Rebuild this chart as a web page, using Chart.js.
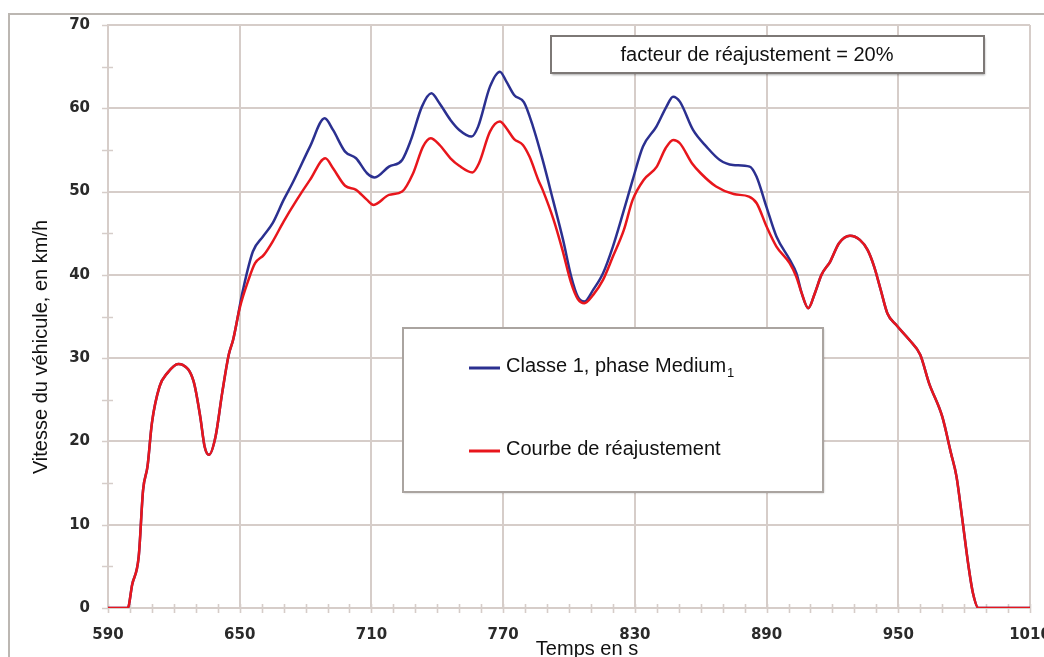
<!DOCTYPE html>
<html lang="fr">
<head>
<meta charset="utf-8">
<script src="https://cdn.jsdelivr.net/npm/chart.js@4"></script>
<style>
  html, body { margin: 0; padding: 0; background: #fff; }
</style>
</head>
<body>
<canvas id="vitesse" width="1044" height="657"></canvas>
<script>
/* Courbe de réajustement (rouge) : temps en s / vitesse en km/h */
const tempsReajust = [590, 599, 601, 604, 606, 608, 610, 613.5, 617, 622, 624, 629, 632, 634, 636, 639, 642, 645, 647,
    650, 654, 657, 661, 665, 670, 676, 682, 689, 692.5, 698, 703, 708, 711, 718, 724, 729, 733.5, 737, 741, 746, 750,
    756, 759, 764, 768.5, 771.5, 775, 779, 782, 786, 788, 793, 797, 801, 804, 807, 811, 815.5, 820, 825, 829, 834, 840,
    844, 847.5, 850.5, 856, 860, 867, 875, 882, 885.5, 890, 894.5, 900.5, 903.5, 906, 909, 912, 915, 919, 923, 928,
    932.5, 936, 939, 942, 945, 949, 955, 960, 964, 970, 974, 976.5, 979, 982, 984, 986.5, 1010];
const vitesseReajust = [0, 0, 2.8, 6.2, 14.2, 17, 22.2, 26.6, 28.2, 29.3, 29.2, 27.2, 23, 19.4, 18.4, 20.6, 25.8, 30.4, 32.2,
    36, 39.4, 41.4, 42.4, 44, 46.4, 49, 51.4, 54, 52.8, 50.7, 50.2, 49, 48.4, 49.6, 50, 52.2, 55.4, 56.4, 55.6, 54, 53.1,
    52.3, 53.4, 57.2, 58.4, 57.6, 56.3, 55.6, 54.2, 51.4, 50.2, 46.6, 43, 39, 37.1, 36.6, 37.6, 39.4, 42.2, 45.4, 49, 51.4, 53,
    55.2, 56.2, 55.8, 53.4, 52.2, 50.6, 49.7, 49.4, 48.6, 45.8, 43.4, 41.4, 39.8, 37.8, 36, 37.8, 40, 41.6, 43.8, 44.7,
    44.2, 43, 41, 38.2, 35.4, 34, 32.2, 30.4, 27, 23, 18.6, 15.8, 11, 5, 1.8, 0, 0];

/* Classe 1, phase Medium1 (bleu) */
const tempsClasse = [590, 599, 601, 604, 606, 608, 610, 613.5, 617, 622, 624, 629, 632, 634, 636, 639, 642, 645, 647,
    651.5, 656, 660.6, 665, 670, 674, 682, 688.7, 692.5, 698, 703, 708, 711.5, 718, 724, 728, 733, 737.3, 741, 746, 750,
    755.6, 758.6, 764, 768.5, 771.5, 775, 779.5, 783.6, 788, 792.7, 797.3, 801, 804, 807, 811, 815.5, 820, 824.6, 829,
    833.7, 839.8, 844.4, 847.4, 850.5, 856.5, 862.6, 868.7, 874.7, 882.3, 885.4, 889.9, 894.5, 900.6, 903.6, 906, 909,
    912, 915, 919, 923, 928, 932.5, 936, 939, 942, 945, 949, 955, 960, 964, 970, 974, 976.5, 979, 982, 984, 986.5, 1010];
const vitesseClasse = [0, 0, 2.8, 6.2, 14.2, 17, 22.2, 26.6, 28.2, 29.3, 29.2, 27.2, 23, 19.4, 18.4, 20.6, 25.8, 30.4, 32.2,
    38.2, 42.8, 44.6, 46.2, 49, 51, 55.4, 58.8, 57.4, 54.8, 54, 52.2, 51.7, 53, 53.8, 56.2, 60.2, 61.8, 60.6, 58.6, 57.4,
    56.6, 57.8, 62.6, 64.4, 63.2, 61.6, 60.7, 57.8, 53.8, 49, 44.2, 39.8, 37.4, 36.8, 38.2, 40.2, 43.4, 47.4, 51.4,
    55.4, 57.8, 60.2, 61.4, 60.8, 57.4, 55.4, 53.8, 53.2, 53, 51.8, 48.2, 44.6, 41.8, 40.2, 37.8, 36,
    37.8, 40, 41.6, 43.8, 44.7, 44.2, 43, 41, 38.2, 35.4, 34, 32.2, 30.4, 27, 23, 18.6, 15.8, 11, 5, 1.8, 0, 0];

const xTicks = [590, 650, 710, 770, 830, 890, 950, 1010];
const yTicks = [0, 10, 20, 30, 40, 50, 60, 70];
const xMinorStep = 10;
const yMinorStep = 5;

const BLEU = '#2b3090';
const ROUGE = '#e8161c';
const GRILLE = '#d6cdc9';
const POLICE = '"Liberation Sans", Arial, sans-serif';

const toPoints = (xs, ys) => xs.map((t, i) => ({ x: t, y: ys[i] }));

/* cadre, graduations, encadrés et titres d'axes */
const habillage = {
    id: 'habillage',
    beforeDraw(chart) {
        const { ctx, width, height } = chart;
        ctx.save();
        ctx.fillStyle = '#fff';
        ctx.fillRect(0, 0, width, height);
        ctx.strokeStyle = '#bcb7b2';
        ctx.lineWidth = 2;
        ctx.strokeRect(9, 14, width + 10, height + 10);
        ctx.restore();
    },
    beforeDatasetsDraw(chart) {
        const { ctx, chartArea: a, scales: { x, y } } = chart;
        ctx.save();
        ctx.strokeStyle = GRILLE;
        ctx.lineWidth = 1.6;
        ctx.beginPath();
        for (let t = xTicks[0]; t <= xTicks[xTicks.length - 1]; t += xMinorStep) {
            const px = Math.round(x.getPixelForValue(t)) + 0.5;
            ctx.moveTo(px, a.bottom - 4);
            ctx.lineTo(px, a.bottom + 5);
        }
        for (let v = yTicks[0]; v <= yTicks[yTicks.length - 1]; v += yMinorStep) {
            const py = Math.round(y.getPixelForValue(v)) + 0.5;
            ctx.moveTo(a.left - 6, py);
            ctx.lineTo(a.left + (v % 10 ? 5 : 0), py);
        }
        ctx.stroke();
        ctx.restore();
    },
    afterDatasetsDraw(chart) {
        const { ctx } = chart;
        const ds = chart.data.datasets;
        ctx.save();

        // encadré du facteur
        ctx.shadowColor = 'rgba(0,0,0,0.35)';
        ctx.shadowOffsetX = 1;
        ctx.shadowOffsetY = 2;
        ctx.shadowBlur = 2;
        ctx.fillStyle = '#fff';
        ctx.fillRect(551, 36, 433, 37);
        ctx.shadowColor = 'transparent';
        ctx.strokeStyle = '#7d7876';
        ctx.lineWidth = 2;
        ctx.strokeRect(551, 36, 433, 37);
        ctx.fillStyle = '#111';
        ctx.font = '20px ' + POLICE;
        ctx.textAlign = 'center';
        ctx.textBaseline = 'alphabetic';
        ctx.fillText('facteur de réajustement = 20%', 757, 61);

        // légende
        ctx.shadowColor = 'rgba(0,0,0,0.25)';
        ctx.shadowOffsetX = 1;
        ctx.shadowOffsetY = 1;
        ctx.shadowBlur = 2;
        ctx.fillStyle = '#fff';
        ctx.fillRect(403, 328, 420, 164);
        ctx.shadowColor = 'transparent';
        ctx.strokeStyle = '#aaa4a0';
        ctx.lineWidth = 2;
        ctx.strokeRect(403, 328, 420, 164);

        const lignes = [
            { ds: ds[1], y: 368, texte: 'Classe 1, phase Medium', indice: '1' },
            { ds: ds[0], y: 451, texte: 'Courbe de réajustement' }
        ];
        ctx.textAlign = 'left';
        lignes.forEach(l => {
            ctx.strokeStyle = l.ds.borderColor;
            ctx.lineWidth = 3;
            ctx.beginPath();
            ctx.moveTo(469, l.y);
            ctx.lineTo(500, l.y);
            ctx.stroke();
            ctx.fillStyle = '#111';
            ctx.font = '20px ' + POLICE;
            ctx.fillText(l.texte, 506, l.y + 4);
            if (l.indice) {
                const w = ctx.measureText(l.texte).width;
                ctx.font = '13px ' + POLICE;
                ctx.fillText(l.indice, 506 + w + 1, l.y + 9);
            }
        });
        ctx.restore();
    },
    afterDraw(chart) {
        const { ctx } = chart;
        ctx.save();
        ctx.fillStyle = '#111';
        ctx.font = '20px ' + POLICE;
        ctx.textAlign = 'center';
        ctx.textBaseline = 'alphabetic';
        ctx.fillText('Temps en s', 587, 655);
        ctx.translate(47, 347);
        ctx.rotate(-Math.PI / 2);
        ctx.fillText('Vitesse du véhicule, en km/h', 0, 0);
        ctx.restore();
    }
};

new Chart(document.getElementById('vitesse'), {
    type: 'line',
    data: {
        datasets: [
            {
                label: 'Courbe de réajustement',
                data: toPoints(tempsReajust, vitesseReajust),
                borderColor: ROUGE,
                borderWidth: 2.5,
                pointRadius: 0,
                cubicInterpolationMode: 'monotone',
                fill: false,
                order: 0
            },
            {
                label: 'Classe 1, phase Medium1',
                data: toPoints(tempsClasse, vitesseClasse),
                borderColor: BLEU,
                borderWidth: 2.5,
                pointRadius: 0,
                cubicInterpolationMode: 'monotone',
                fill: false,
                order: 1
            }
        ]
    },
    options: {
        responsive: false,
        animation: false,
        layout: { padding: { left: 0, top: 25, right: 14, bottom: 0 } },
        plugins: {
            legend: { display: false },
            tooltip: { enabled: false }
        },
        scales: {
            x: {
                type: 'linear',
                min: xTicks[0],
                max: xTicks[xTicks.length - 1],
                afterBuildTicks: s => { s.ticks = xTicks.map(v => ({ value: v })); },
                afterFit: s => { s.height = 49; s.paddingLeft = 0; s.paddingRight = 0; },
                grid: { color: GRILLE, lineWidth: 2, drawTicks: false },
                border: { color: GRILLE, width: 2 },
                ticks: {
                    padding: 18,
                    maxRotation: 0,
                    color: '#2a2a2a',
                    font: { family: '"DejaVu Sans"', size: 15, weight: 'bold' },
                    callback: v => String(v)
                }
            },
            y: {
                min: yTicks[0],
                max: yTicks[yTicks.length - 1],
                afterBuildTicks: s => { s.ticks = yTicks.map(v => ({ value: v })); },
                afterFit: s => { s.width = 108; s.paddingTop = 0; s.paddingBottom = 0; },
                grid: { color: GRILLE, lineWidth: 2, drawTicks: false },
                border: { color: GRILLE, width: 2 },
                ticks: {
                    padding: 18,
                    color: '#2a2a2a',
                    font: { family: '"DejaVu Sans"', size: 15, weight: 'bold' },
                    callback: v => String(v)
                }
            }
        }
    },
    plugins: [habillage]
});
</script>
</body>
</html>
